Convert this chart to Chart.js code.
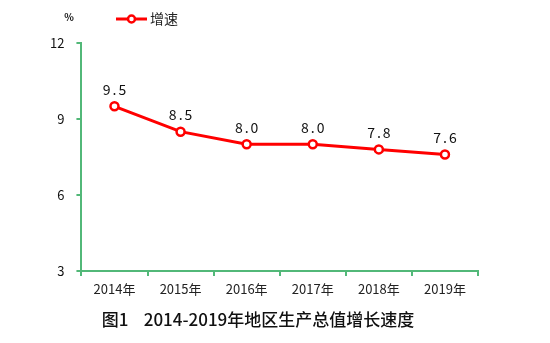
<!DOCTYPE html>
<html>
<head>
<meta charset="utf-8">
<script src="https://cdn.jsdelivr.net/npm/chart.js@4/dist/chart.umd.min.js"></script>
<style>
  html, body { margin: 0; padding: 0; background: #fff; }
  #wrap { width: 550px; height: 343px; position: relative; }
</style>
</head>
<body>
<div id="wrap"><canvas id="growth"></canvas></div>
<script>
const years = ['2014年', '2015年', '2016年', '2017年', '2018年', '2019年'];
const growth = [9.5, 8.5, 8.0, 8.0, 7.8, 7.6];
const seriesName = '增速';
const unitLabel = '%';
const yTicks = [3, 6, 9, 12];
const chartTitle = '图1    2014-2019年地区生产总值增长速度';

const FONT = '"Noto Sans CJK SC", "Noto Sans", sans-serif';
const AXIS = '#52b878';
const RED = '#ff0000';

// value labels above each point, plus the legend and unit in the top strip
const extras = {
  id: 'extras',
  afterDatasetsDraw(chart) {
    const { ctx } = chart;
    const meta = chart.getDatasetMeta(0);
    ctx.save();
    ctx.fillStyle = '#111';
    ctx.font = '14px ' + FONT;
    ctx.textAlign = 'center';
    ctx.textBaseline = 'bottom';
    ctx.letterSpacing = '2px';
    meta.data.forEach((pt, i) => {
      ctx.fillText(growth[i].toFixed(1), pt.x + 1, pt.y - 10);
    });
    ctx.letterSpacing = '0px';

    // unit
    ctx.font = 'bold 10px ' + FONT;
    ctx.textBaseline = 'middle';
    ctx.fillText(unitLabel, 69, 17);

    // legend: line with hollow marker
    ctx.strokeStyle = RED;
    ctx.lineWidth = 3;
    ctx.beginPath();
    ctx.moveTo(116, 19);
    ctx.lineTo(147, 19);
    ctx.stroke();
    ctx.fillStyle = '#fff';
    ctx.lineWidth = 2.5;
    ctx.beginPath();
    ctx.arc(131.5, 19, 3.5, 0, Math.PI * 2);
    ctx.fill();
    ctx.stroke();
    ctx.fillStyle = '#222';
    ctx.font = '14px ' + FONT;
    ctx.textAlign = 'left';
    ctx.fillText(seriesName, 150, 19);
    ctx.restore();
  }
};

new Chart(document.getElementById('growth'), {
  type: 'line',
  data: {
    labels: years,
    datasets: [{
      label: seriesName,
      data: growth,
      borderColor: RED,
      borderWidth: 3,
      pointRadius: 4,
      pointBorderWidth: 2.5,
      pointBackgroundColor: '#fff',
      pointBorderColor: RED,
      tension: 0,
    }],
  },
  options: {
    responsive: true, maintainAspectRatio: false, animation: false,
    layout: { padding: { top: 43, right: 72, left: 38, bottom: 13 } },
    plugins: {
      legend: { display: false },
      tooltip: { enabled: false },
      title: {
        display: true, position: 'bottom', text: chartTitle,
        color: '#111', font: { family: FONT, size: 17, weight: '500' },
        padding: { top: 8, bottom: 0 },
      },
    },
    scales: {
      x: {
        offset: true,
        grid: { display: true, offset: true, drawOnChartArea: false, drawTicks: true, tickLength: 5, color: AXIS, lineWidth: 2 },
        border: { color: AXIS, width: 2 },
        ticks: { color: '#222', font: { family: FONT, size: 13 }, padding: 5, maxRotation: 0 },
      },
      y: {
        min: 3, max: 12,
        afterBuildTicks: s => { s.ticks = yTicks.map(v => ({ value: v })); },
        grid: { display: true, drawOnChartArea: false, drawTicks: true, tickLength: 5, color: AXIS, lineWidth: 2 },
        border: { color: AXIS, width: 2 },
        ticks: { color: '#111', font: { family: FONT, size: 13 }, padding: 12 },
      },
    },
  },
  plugins: [extras],
});
</script>
</body>
</html>
